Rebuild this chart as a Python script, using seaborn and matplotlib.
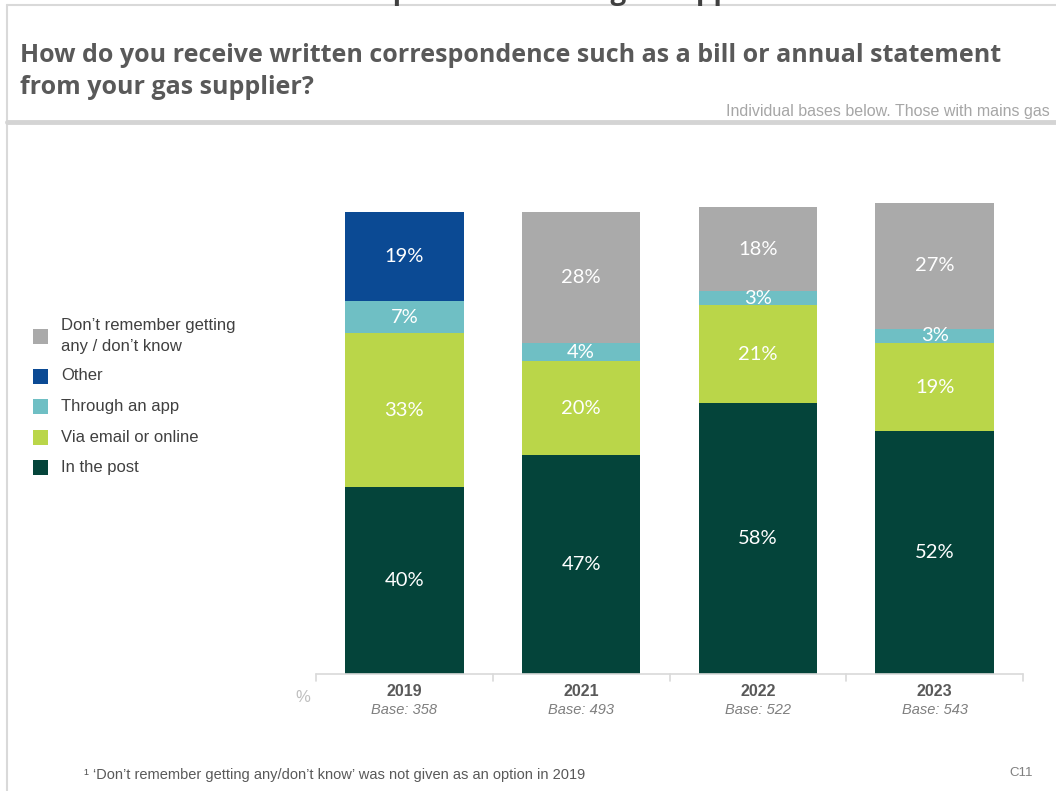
import numpy as np
import pandas as pd
import matplotlib
matplotlib.use("Agg")
import matplotlib.pyplot as plt
import matplotlib.transforms as mtransforms
from matplotlib.patches import Rectangle
from matplotlib.lines import Line2D
import seaborn as sns

# ---- data ----
years = ["2019", "2021", "2022", "2023"]
bases = [358, 493, 522, 543]
in_the_post = [40, 47, 58, 52]
via_email = [33, 20, 21, 19]
through_app = [7, 4, 3, 3]
other = [19, 0, 0, 0]
dont_know = [0, 28, 18, 27]

series_names = ["In the post", "Via email or online", "Through an app", "Other",
                "Don\u2019t remember getting\nany / don\u2019t know"]
series_values = [in_the_post, via_email, through_app, other, dont_know]
series_colors = ["#04443a", "#bad649", "#6fbfc4", "#0b4a94", "#aaaaaa"]

sns.set_theme(style="white")
plt.rcParams["font.family"] = ["Liberation Sans", "DejaVu Sans"]

fig = plt.figure(figsize=(10.56, 7.91), dpi=100)
W, H = 1056, 791

def fx(px):
    return px / W

def fy(py):
    return 1 - py / H

# ---- frame lines of the slide ----
fig.add_artist(Line2D([fx(7), 1], [fy(5), fy(5)], color="#d9d9d9", lw=1.5))
fig.add_artist(Line2D([fx(7), fx(7)], [fy(5), 0], color="#d9d9d9", lw=1.5))
fig.add_artist(Line2D([fx(7), 1], [fy(122), fy(122)], color="#d4d4d4", lw=3.5))

# heading that runs off the top edge of the slide
fig.text(fx(540), fy(-1), "Correspondence from gas supplier", ha="center", va="baseline",
         fontsize=20, fontweight="bold", color="#404040", family="Open Sans")

# ---- title ----
fig.text(fx(20), fy(62), "How do you receive written correspondence such as a bill or annual statement",
         ha="left", va="baseline", fontsize=18, fontweight="bold", color="#595959",
         family="Open Sans")
fig.text(fx(20), fy(94), "from your gas supplier?",
         ha="left", va="baseline", fontsize=18, fontweight="bold", color="#595959",
         family="Open Sans")
fig.text(fx(1050), fy(116), "Individual bases below. Those with mains gas",
         ha="right", va="baseline", fontsize=11.5, color="#a6a6a6")

# ---- chart ----
AX_L, AX_R, AX_B, AX_H = 316, 1023, 674, 513.3
ax = fig.add_axes([fx(AX_L), fy(AX_B), (AX_R - AX_L) / W, AX_H / H])

df = pd.DataFrame({"year": years})
cum = np.zeros(len(years))
cums = []
for vals in series_values:
    cum = cum + np.array(vals, dtype=float)
    cums.append(cum.copy())

# stacked bars: draw cumulative totals from the top segment downward
for name, color, c in reversed(list(zip(series_names, series_colors, cums))):
    df["total"] = c
    sns.barplot(data=df, x="year", y="total", order=years, color=color,
                width=0.67, saturation=1, edgecolor="none", linewidth=0, ax=ax)

# segment labels
for vals, c in zip(series_values, cums):
    for i, (v, top) in enumerate(zip(vals, c)):
        if v > 0:
            ax.text(i, top - v / 2, f"{v}%", ha="center", va="center",
                    color="white", fontsize=14.5, family="Lato")

ax.set_xlim(-0.5, 3.5)
ax.set_ylim(0, 110)
ax.set_xlabel("")
ax.set_ylabel("")
ax.set_xticks([])
ax.set_yticks([])
for s in ax.spines.values():
    s.set_visible(False)

# baseline with category separator ticks
ax.axhline(0, color="#d9d9d9", lw=1.2, clip_on=False)
trans = mtransforms.blended_transform_factory(ax.transData, ax.transAxes)
for b in np.arange(-0.5, 4, 1.0):
    ax.add_line(Line2D([b, b], [0, -7 / AX_H], transform=trans, color="#d9d9d9",
                       lw=1.2, clip_on=False))

for i, (yr, base) in enumerate(zip(years, bases)):
    ax.text(i, -17 / AX_H, yr, transform=trans, ha="center", va="center",
            fontsize=11.5, fontweight="bold", color="#595959")
    ax.text(i, -36 / AX_H, f"Base: {base}", transform=trans, ha="center", va="center",
            fontsize=10.5, fontstyle="italic", color="#7f7f7f")

fig.text(fx(303), fy(697), "%", ha="center", va="center", fontsize=12, color="#bfbfbf")

# ---- legend ----
legend_rows = [(336, 4), (376, 3), (406, 2), (437, 1), (467, 0)]
for ypx, k in legend_rows:
    fig.add_artist(Rectangle((fx(33), fy(ypx + 7.5)), fx(15), 15 / H,
                             facecolor=series_colors[k], edgecolor="none"))
    fig.text(fx(61), fy(ypx), series_names[k], ha="left", va="center",
             fontsize=12, color="#404040", linespacing=1.45)

# ---- footnote ----
fig.text(fx(84), fy(775), "\u00b9 \u2018Don\u2019t remember getting any/don\u2019t know\u2019 was not given as an option in 2019",
         ha="left", va="center", fontsize=10.5, color="#595959")
fig.text(fx(1033), fy(773), "C11", ha="right", va="center", fontsize=9.5, color="#7f7f7f")

fig.savefig("out.png", dpi=100)
